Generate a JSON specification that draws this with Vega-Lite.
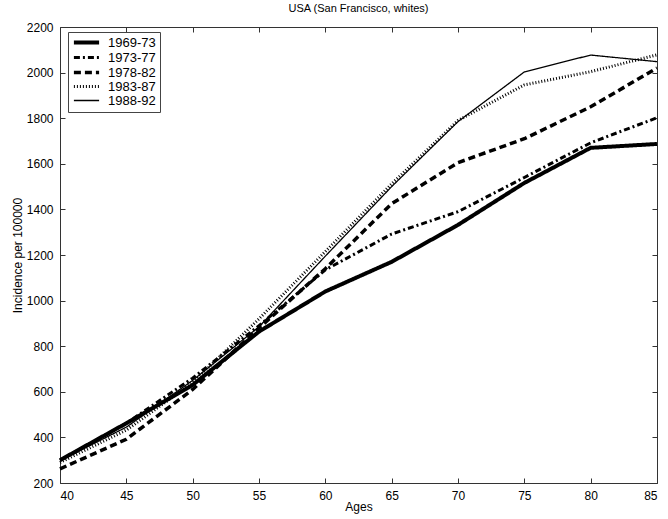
{
  "$schema": "https://vega.github.io/schema/vega-lite/v6.json",
  "width": 597,
  "height": 456,
  "autosize": {"type": "none"},
  "padding": {"left": 60, "top": 27, "right": 11, "bottom": 36},
  "background": "white",
  "config": {
    "font": "Liberation Sans",
    "view": {"stroke": "#333", "strokeWidth": 1},
    "axis": {"grid": false, "domain": false, "offset": -5, "tickSize": 5, "tickColor": "#333", "tickWidth": 1, "labelColor": "black", "titleColor": "black", "labelFont": "Liberation Sans", "titleFont": "Liberation Sans", "labelFontSize": 12, "titleFontSize": 12, "titleFontWeight": "normal", "format": "d"}
  },
  "title": {"text": "USA (San Francisco, whites)", "fontSize": 11, "fontWeight": "normal", "font": "Liberation Sans", "offset": 7, "color": "black"},
  "data": {"values": [
    {"age": 40, "period": "1969-73", "v": 300}, {"age": 45, "period": "1969-73", "v": 462}, {"age": 50, "period": "1969-73", "v": 630}, {"age": 55, "period": "1969-73", "v": 864}, {"age": 60, "period": "1969-73", "v": 1040}, {"age": 65, "period": "1969-73", "v": 1170}, {"age": 70, "period": "1969-73", "v": 1332}, {"age": 75, "period": "1969-73", "v": 1516}, {"age": 80, "period": "1969-73", "v": 1670}, {"age": 85, "period": "1969-73", "v": 1687},
    {"age": 40, "period": "1973-77", "v": 300}, {"age": 45, "period": "1973-77", "v": 462}, {"age": 50, "period": "1973-77", "v": 660}, {"age": 55, "period": "1973-77", "v": 890}, {"age": 60, "period": "1973-77", "v": 1135}, {"age": 65, "period": "1973-77", "v": 1292}, {"age": 70, "period": "1973-77", "v": 1390}, {"age": 75, "period": "1973-77", "v": 1540}, {"age": 80, "period": "1973-77", "v": 1692}, {"age": 85, "period": "1973-77", "v": 1802},
    {"age": 40, "period": "1978-82", "v": 262}, {"age": 45, "period": "1978-82", "v": 392}, {"age": 50, "period": "1978-82", "v": 610}, {"age": 55, "period": "1978-82", "v": 880}, {"age": 60, "period": "1978-82", "v": 1140}, {"age": 65, "period": "1978-82", "v": 1425}, {"age": 70, "period": "1978-82", "v": 1605}, {"age": 75, "period": "1978-82", "v": 1710}, {"age": 80, "period": "1978-82", "v": 1850}, {"age": 85, "period": "1978-82", "v": 2020},
    {"age": 40, "period": "1983-87", "v": 290}, {"age": 45, "period": "1983-87", "v": 432}, {"age": 50, "period": "1983-87", "v": 640}, {"age": 55, "period": "1983-87", "v": 920}, {"age": 60, "period": "1983-87", "v": 1215}, {"age": 65, "period": "1983-87", "v": 1512}, {"age": 70, "period": "1983-87", "v": 1790}, {"age": 75, "period": "1983-87", "v": 1946}, {"age": 80, "period": "1983-87", "v": 2004}, {"age": 85, "period": "1983-87", "v": 2078},
    {"age": 40, "period": "1988-92", "v": 298}, {"age": 45, "period": "1988-92", "v": 445}, {"age": 50, "period": "1988-92", "v": 650}, {"age": 55, "period": "1988-92", "v": 885}, {"age": 60, "period": "1988-92", "v": 1195}, {"age": 65, "period": "1988-92", "v": 1500}, {"age": 70, "period": "1988-92", "v": 1785}, {"age": 75, "period": "1988-92", "v": 2003}, {"age": 80, "period": "1988-92", "v": 2077}, {"age": 85, "period": "1988-92", "v": 2048}
  ]},
  "layer": [
    {
      "mark": {"type": "line", "color": "black", "strokeCap": "butt", "strokeJoin": "miter"},
      "encoding": {
        "x": {"field": "age", "type": "quantitative", "scale": {"domain": [40, 85], "nice": false, "zero": false}, "axis": {"values": [40, 45, 50, 55, 60, 65, 70, 75, 80, 85], "title": "Ages", "labelPadding": 7, "titlePadding": 0}},
        "y": {"field": "v", "type": "quantitative", "scale": {"domain": [200, 2200], "nice": false, "zero": false}, "axis": {"values": [200, 400, 600, 800, 1000, 1200, 1400, 1600, 1800, 2000, 2200], "title": "Incidence per 100000", "labelPadding": 7, "titlePadding": 2}},
        "strokeDash": {"field": "period", "type": "nominal", "scale": {"domain": ["1969-73", "1973-77", "1978-82", "1983-87", "1988-92"], "range": [[1, 0], [6, 3, 2, 3], [7, 4], [1, 2], [1, 0]]}, "legend": {"title": null, "orient": "none", "legendX": 8, "legendY": 5, "padding": 4, "strokeColor": "#444", "fillColor": "white", "symbolType": "M-2.1,0H2.1", "symbolSize": 144, "symbolStrokeColor": "black", "symbolFillColor": "transparent", "rowPadding": 0, "labelFontSize": 13, "labelFont": "Liberation Sans", "labelOffset": 15, "symbolOffset": 8, "encode": {"symbols": {"update": {"strokeWidth": {"signal": "datum.value === '1969-73' ? 4 : datum.value === '1973-77' ? 3 : datum.value === '1978-82' ? 3.5 : datum.value === '1983-87' ? 3 : 1.3"}, "strokeCap": {"value": "butt"}}}}}},
        "strokeWidth": {"condition": [{"test": "datum.period === '1969-73'", "value": 4}, {"test": "datum.period === '1973-77'", "value": 3}, {"test": "datum.period === '1978-82'", "value": 3.5}, {"test": "datum.period === '1983-87'", "value": 3}], "value": 1.3},
        "detail": {"field": "period"}
      }
    },
    {
      "mark": {"type": "line", "opacity": 0},
      "encoding": {
        "x": {"field": "age", "type": "quantitative", "axis": {"orient": "top", "values": [40, 45, 50, 55, 60, 65, 70, 75, 80, 85], "labels": false, "title": null}},
        "y": {"field": "v", "type": "quantitative", "axis": {"orient": "right", "values": [200, 400, 600, 800, 1000, 1200, 1400, 1600, 1800, 2000, 2200], "labels": false, "title": null}},
        "detail": {"field": "period"}
      }
    }
  ],
  "resolve": {"axis": {"x": "independent", "y": "independent"}}
}
